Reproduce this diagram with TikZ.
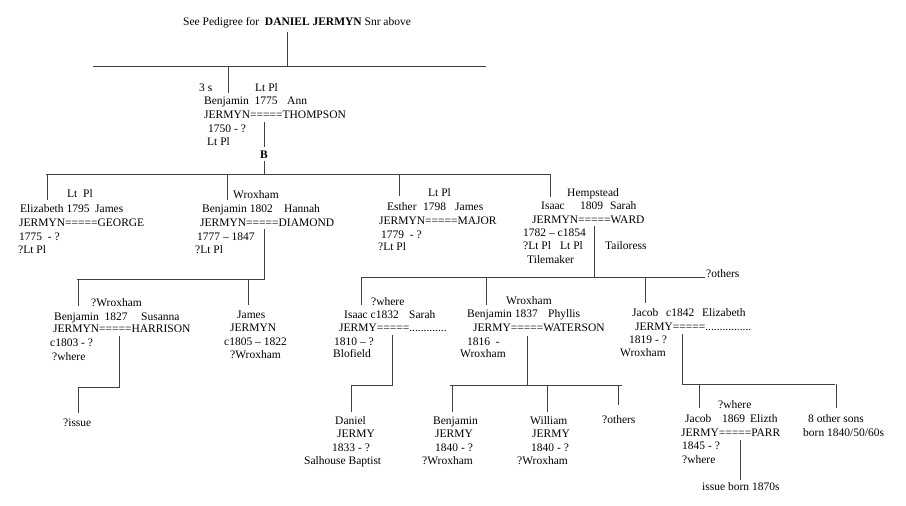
\documentclass[tikz,border=0pt]{standalone}
\usepackage{fontspec}
\setmainfont{Liberation Serif}
\begin{document}
\begin{tikzpicture}[x=1pt,y=-1pt,
  txt/.style={anchor=base west,inner sep=0pt,font=\fontsize{11.5}{13}\selectfont},
  ln/.style={draw=black!75,line width=0.7pt}]
\useasboundingbox[fill=white] (0,0) rectangle (906,506);
% ---------- texts ----------
\node[txt] (see) at (183,25) {See Pedigree for\ \ \textbf{DANIEL JERMYN} Snr above};
\node[txt] (a1) at (199,91) {3 s};
\node[txt] (a2) at (255,91) {Lt Pl};
\node[txt] (a3) at (204,104) {Benjamin\ \ 1775};
\node[txt] (a4) at (287,104) {Ann};
\node[txt] (a5) at (204,118) {JERMYN=====THOMPSON};
\node[txt] (a6) at (208,132) {1750 - ?};
\node[txt] (a7) at (207,145) {Lt Pl};
\node[txt,font=\fontsize{11.5}{13}\selectfont\bfseries] (bB) at (260,158) {B};
% Elizabeth
\node[txt] (e1) at (67,197) {Lt\ \ Pl};
\node[txt] (e2) at (20,212) {Elizabeth 1795};
\node[txt] (e3) at (95,212) {James};
\node[txt] (e4) at (19,226) {JERMYN=====GEORGE};
\node[txt] (e5) at (19,240) {1775\ \ - ?};
\node[txt] (e6) at (18,253) {?Lt Pl};
% Benjamin 1802
\node[txt] (b1) at (233,198) {Wroxham};
\node[txt] (b2) at (202,212) {Benjamin 1802};
\node[txt] (b3) at (284,212) {Hannah};
\node[txt] (b4) at (200,226) {JERMYN=====DIAMOND};
\node[txt] (b5) at (197,240) {1777 – 1847};
\node[txt] (b6) at (195,253) {?Lt Pl};
% Esther
\node[txt] (s1) at (428,196) {Lt Pl};
\node[txt] (s2) at (387,210) {Esther};
\node[txt] (s3) at (423,210) {1798};
\node[txt] (s4) at (455,210) {James};
\node[txt] (s5) at (379,224) {JERMYN=====MAJOR};
\node[txt] (s6) at (381,238) {1779\ \ - ?};
\node[txt] (s7) at (378,250) {?Lt Pl};
% Isaac 1809
\node[txt] (i1) at (567,196) {Hempstead};
\node[txt] (i2) at (541,209) {Isaac};
\node[txt] (i3) at (580,209) {1809};
\node[txt] (i4) at (610,209) {Sarah};
\node[txt] (i5) at (532,223) {JERMYN=====WARD};
\node[txt] (i6) at (523,236) {1782 – c1854};
\node[txt] (i7) at (523,249) {?Lt Pl};
\node[txt] (i8) at (560,249) {Lt Pl};
\node[txt] (i9) at (605,249) {Tailoress};
\node[txt] (i10) at (527,263) {Tilemaker};
\node[txt] (oth1) at (706,277) {?others};
% Benjamin 1827
\node[txt] (c1) at (91,306) {?Wroxham};
\node[txt] (c2) at (54,320) {Benjamin\ \ 1827};
\node[txt] (c3) at (141,320) {Susanna};
\node[txt] (c4) at (53,332) {JERMYN=====HARRISON};
\node[txt] (c5) at (50,346) {c1803 - ?};
\node[txt] (c6) at (52,360) {?where};
\node[txt] (c7) at (63,426) {?issue};
% James
\node[txt] (j1) at (237,318) {James};
\node[txt] (j2) at (230,331) {JERMYN};
\node[txt] (j3) at (224,345) {c1805 – 1822};
\node[txt] (j4) at (230,358) {?Wroxham};
% Isaac c1832
\node[txt] (k1) at (371,305) {?where};
\node[txt] (k2) at (344,318) {Isaac c1832};
\node[txt] (k3) at (409,318) {Sarah};
\node[txt] (k4) at (339,331) {JERMY=====.............};
\node[txt] (k5) at (334,345) {1810 – ?};
\node[txt] (k6) at (333,357) {Blofield};
\node[txt] (d1) at (335,424) {Daniel};
\node[txt] (d2) at (337,437) {JERMY};
\node[txt] (d3) at (332,451) {1833 - ?};
\node[txt] (d4) at (304,464) {Salhouse Baptist};
% Benjamin 1837
\node[txt] (m1) at (506,304) {Wroxham};
\node[txt] (m2) at (467,317) {Benjamin 1837};
\node[txt] (m3) at (548,317) {Phyllis};
\node[txt] (m4) at (473,331) {JERMY=====WATERSON};
\node[txt] (m5) at (467,345) {1816\ \ -};
\node[txt] (m6) at (460,357) {Wroxham};
\node[txt] (p1) at (433,424) {Benjamin};
\node[txt] (p2) at (435,437) {JERMY};
\node[txt] (p3) at (435,451) {1840 - ?};
\node[txt] (p4) at (422,464) {?Wroxham};
\node[txt] (w1) at (530,424) {William};
\node[txt] (w2) at (532,437) {JERMY};
\node[txt] (w3) at (531,451) {1840 - ?};
\node[txt] (w4) at (517,464) {?Wroxham};
\node[txt] (oth2) at (602,423) {?others};
% Jacob c1842
\node[txt] (g1) at (632,316) {Jacob};
\node[txt] (g2) at (666,316) {c1842};
\node[txt] (g3) at (702,316) {Elizabeth};
\node[txt] (g4) at (635,330) {JERMY=====................};
\node[txt] (g5) at (629,343) {1819 - ?};
\node[txt] (g6) at (620,356) {Wroxham};
\node[txt] (h1) at (718,408) {?where};
\node[txt] (h2) at (685,422) {Jacob};
\node[txt] (h3) at (722,422) {1869};
\node[txt] (h4) at (750,422) {Elizth};
\node[txt] (h5) at (681,436) {JERMY=====PARR};
\node[txt] (h6) at (682,449) {1845 - ?};
\node[txt] (h7) at (682,463) {?where};
\node[txt] (h8) at (702,490) {issue born 1870s};
\node[txt] (o1) at (808,422) {8 other sons};
\node[txt] (o2) at (803,436) {born 1840/50/60s};
% ---------- connectors ----------
\coordinate (t0) at (287,32);
\coordinate (t1) at (287,66);
\coordinate (tl) at (93,66);
\coordinate (tr) at (486,66);
\coordinate (t2) at (228,66);
\coordinate (t3) at (228,93);
\draw[ln] (t0) -- (t1);
\draw[ln] (tl) -- (tr);
\draw[ln] (t2) -- (t3);
\coordinate (bm1) at (264,122);
\coordinate (bm2) at (264,147);
\coordinate (bm3) at (264,161);
\coordinate (bm4) at (264,174);
\draw[ln] (bm1) -- (bm2);
\draw[ln] (bm3) -- (bm4);
\coordinate (g1l) at (46,174);
\coordinate (g1r) at (550,174);
\draw[ln] (g1l) -- (g1r);
\coordinate (ce) at (47,200);
\coordinate (cb) at (227,200);
\coordinate (cs) at (399,196);
\coordinate (ci) at (550,197);
\draw[ln] (47,174) -- (ce);
\draw[ln] (227,174) -- (cb);
\draw[ln] (399,174) -- (cs);
\draw[ln] (g1r) -- (ci);
% Benjamin 1802 family
\coordinate (bd1) at (264,229);
\coordinate (bd2) at (264,279);
\coordinate (bd3) at (77,279);
\draw[ln] (bd1) -- (bd2) -- (bd3);
\coordinate (bc) at (78,306);
\coordinate (jc) at (248,305);
\draw[ln] (78,279) -- (bc);
\draw[ln] (248,279) -- (jc);
% Harrison
\coordinate (hs1) at (119,336);
\coordinate (hs2) at (119,387);
\coordinate (hs3) at (78,387);
\coordinate (hs4) at (78,413);
\draw[ln] (hs1) -- (hs2) -- (hs3) -- (hs4);
% Ward family
\coordinate (wd1) at (594,226);
\coordinate (wd2) at (594,277);
\coordinate (wl) at (361,277);
\coordinate (wr) at (705,277);
\draw[ln] (wd1) -- (wd2);
\draw[ln] (wl) -- (wr);
\coordinate (ck) at (361,305);
\coordinate (cm) at (486,305);
\coordinate (cg) at (645,303);
\draw[ln] (wl) -- (ck);
\draw[ln] (486,277) -- (cm);
\draw[ln] (645,277) -- (cg);
% Isaac c1832
\coordinate (ks1) at (392,335);
\coordinate (ks2) at (392,385);
\coordinate (ks3) at (351,385);
\coordinate (ks4) at (351,412);
\draw[ln] (ks1) -- (ks2) -- (ks3) -- (ks4);
% Waterson
\coordinate (ws1) at (527,336);
\coordinate (ws2) at (527,385);
\coordinate (wsl) at (450,385);
\coordinate (wsr) at (622,385);
\draw[ln] (ws1) -- (ws2);
\draw[ln] (wsl) -- (wsr);
\coordinate (pc) at (452,412);
\coordinate (wc) at (547,412);
\coordinate (oc) at (618,405);
\draw[ln] (452,385) -- (pc);
\draw[ln] (547,385) -- (wc);
\draw[ln] (618,385) -- (oc);
% Jacob c1842
\coordinate (js1) at (682,334);
\coordinate (js2) at (682,384);
\coordinate (jsr) at (835,384);
\draw[ln] (js1) -- (js2) -- (jsr);
\coordinate (hc) at (699,408);
\coordinate (occ) at (836,408);
\draw[ln] (699,384) -- (hc);
\draw[ln] (836,384) -- (occ);
\coordinate (pr1) at (740,440);
\coordinate (pr2) at (740,480);
\draw[ln] (pr1) -- (pr2);
\end{tikzpicture}
\end{document}
